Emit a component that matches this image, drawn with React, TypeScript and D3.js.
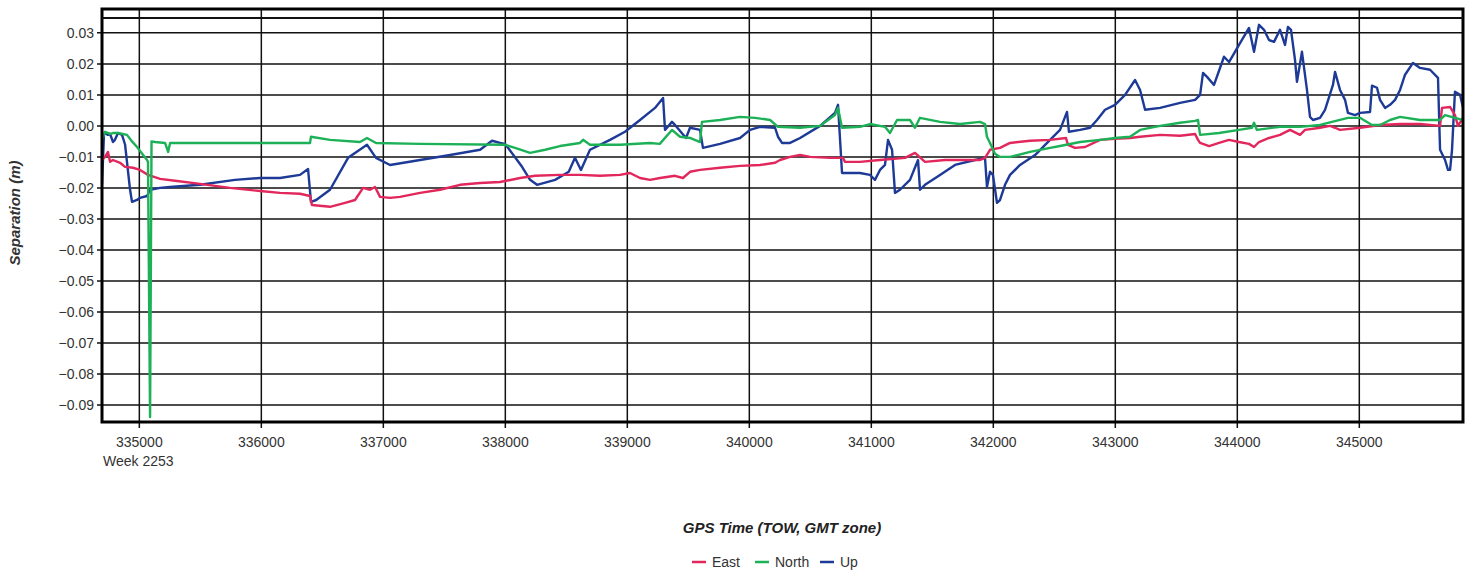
import React from 'react';
import * as d3 from 'd3';

// GPS time of week (s) vs separation (m)
const eastSeries: [number, number][] = [
    [334694, -0.0110], [334719, -0.0100], [334743, -0.0084], [334760, -0.0116], [334784, -0.0110],
    [334842, -0.0119], [334883, -0.0132], [334948, -0.0135], [335006, -0.0142], [335071, -0.0158],
    [335170, -0.0171], [335293, -0.0177], [335498, -0.0187], [335743, -0.0200], [335989, -0.0210],
    [336153, -0.0216], [336317, -0.0219], [336399, -0.0226], [336415, -0.0255], [336563, -0.0261],
    [336686, -0.0248], [336768, -0.0239], [336834, -0.0200], [336891, -0.0206], [336932, -0.0197],
    [336973, -0.0229], [337055, -0.0232], [337137, -0.0229], [337301, -0.0216], [337465, -0.0206],
    [337629, -0.0190], [337793, -0.0184], [337957, -0.0181], [338121, -0.0168], [338244, -0.0161],
    [338448, -0.0158], [338612, -0.0158], [338776, -0.0161], [338940, -0.0158], [339022, -0.0152],
    [339104, -0.0168], [339186, -0.0174], [339268, -0.0168], [339391, -0.0161], [339456, -0.0168],
    [339514, -0.0148], [339596, -0.0142], [339760, -0.0135], [339924, -0.0129], [340088, -0.0126],
    [340211, -0.0119], [340252, -0.0110], [340334, -0.0100], [340416, -0.0094], [340498, -0.0100],
    [340662, -0.0103], [340768, -0.0103], [340784, -0.0116], [340907, -0.0116], [341071, -0.0110],
    [341276, -0.0103], [341358, -0.0087], [341440, -0.0116], [341604, -0.0110], [341891, -0.0110],
    [341932, -0.0103], [341973, -0.0077], [342055, -0.0071], [342137, -0.0055], [342301, -0.0048],
    [342465, -0.0045], [342596, -0.0039], [342612, -0.0061], [342670, -0.0071], [342752, -0.0068],
    [342875, -0.0045], [342998, -0.0042], [343121, -0.0039], [343203, -0.0035], [343367, -0.0029],
    [343531, -0.0032], [343654, -0.0026], [343678, -0.0045], [343695, -0.0055], [343769, -0.0065],
    [343850, -0.0055], [343932, -0.0045], [344014, -0.0052], [344096, -0.0058], [344137, -0.0068],
    [344178, -0.0052], [344260, -0.0039], [344350, -0.0029], [344432, -0.0013], [344514, -0.0029],
    [344555, -0.0013], [344678, -0.0006], [344760, 0.0000], [344801, -0.0006], [344842, -0.0013],
    [345006, -0.0006], [345170, 0.0003], [345334, 0.0006], [345498, 0.0006], [345662, 0.0000],
    [345678, 0.0058], [345744, 0.0061], [345784, 0.0035], [345809, 0.0000], [345850, 0.0026],
];

const northSeries: [number, number][] = [
    [334694, -0.0045], [334719, -0.0019], [334760, -0.0026], [334784, -0.0023], [334825, -0.0023],
    [334899, -0.0029], [334940, -0.0050], [334981, -0.0068], [335063, -0.0110], [335071, -0.0116],
    [335088, -0.0939], [335100, -0.0050], [335129, -0.0052], [335211, -0.0055], [335236, -0.0084],
    [335252, -0.0055], [335498, -0.0055], [335989, -0.0055], [336399, -0.0055], [336407, -0.0035],
    [336563, -0.0045], [336809, -0.0052], [336866, -0.0039], [336940, -0.0055], [337301, -0.0058],
    [337998, -0.0061], [338080, -0.0071], [338203, -0.0087], [338326, -0.0077], [338448, -0.0065],
    [338612, -0.0055], [338637, -0.0045], [338694, -0.0061], [338940, -0.0061], [339186, -0.0055],
    [339266, -0.0058], [339366, -0.0013], [339432, -0.0035], [339514, -0.0039], [339596, -0.0052],
    [339612, 0.0013], [339760, 0.0019], [339924, 0.0029], [340047, 0.0026], [340170, 0.0019],
    [340235, -0.0003], [340416, -0.0006], [340580, 0.0000], [340702, 0.0035], [340727, 0.0058],
    [340760, -0.0006], [340907, -0.0003], [340989, 0.0006], [341112, -0.0003], [341153, -0.0023],
    [341211, 0.0019], [341317, 0.0019], [341358, -0.0006], [341399, 0.0026], [341563, 0.0013],
    [341727, 0.0006], [341891, 0.0013], [341932, 0.0006], [341948, -0.0035], [341973, -0.0055],
    [342014, -0.0090], [342055, -0.0100], [342137, -0.0100], [342301, -0.0084], [342465, -0.0071],
    [342547, -0.0065], [342711, -0.0052], [342875, -0.0045], [342998, -0.0039], [343121, -0.0035],
    [343203, -0.0013], [343367, 0.0000], [343531, 0.0010], [343654, 0.0016], [343678, 0.0019],
    [343695, -0.0029], [343850, -0.0023], [344014, -0.0013], [344120, -0.0006], [344137, 0.0010],
    [344160, -0.0013], [344350, -0.0003], [344514, -0.0003], [344678, 0.0003], [344907, 0.0026],
    [345006, 0.0026], [345104, 0.0003], [345170, 0.0003], [345252, 0.0019], [345334, 0.0029],
    [345498, 0.0019], [345662, 0.0019], [345703, 0.0035], [345784, 0.0026], [345850, 0.0019],
];

const upSeries: [number, number][] = [
    [334694, -0.0190], [334710, -0.0030], [334719, -0.0023], [334743, -0.0029], [334760, -0.0026],
    [334784, -0.0052], [334800, -0.0045], [334825, -0.0023], [334858, -0.0029], [334883, -0.0060],
    [334924, -0.0206], [334940, -0.0245], [334981, -0.0239], [335006, -0.0232], [335063, -0.0226],
    [335088, -0.0206], [335170, -0.0200], [335252, -0.0197], [335498, -0.0190], [335784, -0.0174],
    [335989, -0.0168], [336153, -0.0168], [336317, -0.0158], [336383, -0.0139], [336407, -0.0245],
    [336450, -0.0239], [336563, -0.0206], [336711, -0.0103], [336866, -0.0061], [336940, -0.0103],
    [337055, -0.0126], [337301, -0.0110], [337547, -0.0094], [337793, -0.0077], [337891, -0.0048],
    [337957, -0.0055], [337998, -0.0058], [338137, -0.0132], [338203, -0.0174], [338260, -0.0190],
    [338408, -0.0174], [338520, -0.0148], [338571, -0.0103], [338620, -0.0142], [338694, -0.0077],
    [338858, -0.0045], [338981, -0.0019], [339104, 0.0019], [339227, 0.0058], [339293, 0.0090],
    [339309, -0.0013], [339366, 0.0013], [339391, 0.0003], [339481, -0.0039], [339514, -0.0006],
    [339596, -0.0013], [339620, -0.0071], [339760, -0.0058], [339924, -0.0039], [340006, -0.0013],
    [340088, -0.0003], [340211, -0.0006], [340235, -0.0035], [340268, -0.0055], [340334, -0.0055],
    [340416, -0.0039], [340580, 0.0000], [340702, 0.0042], [340727, 0.0068], [340760, -0.0152],
    [340907, -0.0152], [340989, -0.0158], [341030, -0.0174], [341071, -0.0142], [341112, -0.0126],
    [341137, -0.0045], [341170, -0.0077], [341194, -0.0216], [341235, -0.0206], [341317, -0.0174],
    [341383, -0.0110], [341399, -0.0206], [341440, -0.0190], [341563, -0.0158], [341686, -0.0126],
    [341850, -0.0110], [341932, -0.0103], [341948, -0.0197], [341973, -0.0148], [341997, -0.0158],
    [342030, -0.0248], [342055, -0.0239], [342096, -0.0190], [342137, -0.0158], [342219, -0.0126],
    [342342, -0.0094], [342465, -0.0045], [342547, -0.0013], [342604, 0.0045], [342620, -0.0019],
    [342711, -0.0013], [342793, -0.0006], [342850, 0.0019], [342916, 0.0052], [342998, 0.0068],
    [343080, 0.0100], [343162, 0.0148], [343203, 0.0116], [343244, 0.0052], [343367, 0.0058],
    [343531, 0.0074], [343654, 0.0084], [343695, 0.0100], [343719, 0.0171], [343752, 0.0158],
    [343809, 0.0132], [343891, 0.0223], [343932, 0.0206], [344014, 0.0261], [344096, 0.0316],
    [344137, 0.0239], [344178, 0.0326], [344219, 0.0310], [344260, 0.0277], [344301, 0.0271],
    [344350, 0.0310], [344391, 0.0261], [344415, 0.0319], [344440, 0.0310], [344473, 0.0213],
    [344489, 0.0142], [344530, 0.0239], [344571, 0.0116], [344596, 0.0029], [344620, 0.0019],
    [344678, 0.0026], [344719, 0.0052], [344784, 0.0132], [344801, 0.0174], [344842, 0.0116],
    [344883, 0.0084], [344907, 0.0042], [344965, 0.0035], [345006, 0.0042], [345088, 0.0045],
    [345104, 0.0130], [345145, 0.0123], [345170, 0.0084], [345211, 0.0058], [345252, 0.0068],
    [345293, 0.0084], [345334, 0.0116], [345375, 0.0165], [345440, 0.0203], [345498, 0.0187],
    [345580, 0.0181], [345645, 0.0155], [345662, -0.0077], [345703, -0.0110], [345727, -0.0142],
    [345744, -0.0142], [345760, -0.0077], [345784, 0.0110], [345826, 0.0100], [345850, 0.0060],
];

const xTicks = [335000, 336000, 337000, 338000, 339000, 340000, 341000, 342000, 343000, 344000, 345000];
const yTicks = [0.03, 0.02, 0.01, 0, -0.01, -0.02, -0.03, -0.04, -0.05, -0.06, -0.07, -0.08, -0.09];
const weekLabel = 'Week 2253';

const legendItems = [
    { name: 'East', color: '#e2275c', data: eastSeries },
    { name: 'North', color: '#1db157', data: northSeries },
    { name: 'Up', color: '#1d3a96', data: upSeries },
];

const W = 1470;
const H = 571;
const plot = { left: 102, right: 1463, top: 9, bottom: 422 };
const font = '"Liberation Sans", Arial, sans-serif';

export default function App() {
    const x = d3.scaleLinear().domain([334694, 345850]).range([plot.left, plot.right]);
    const y = d3.scaleLinear().domain([-0.0955, 0.0377]).range([plot.bottom, plot.top]);
    const line = d3.line<[number, number]>().x(d => x(d[0])).y(d => y(d[1]));

    // draw order: Up underneath, then East, North on top
    const drawOrder = [legendItems[2], legendItems[0], legendItems[1]];

    const legendX = [692, 755, 820];

    return (
        <div style={{ position: 'absolute', left: 0, top: 0 }}>
            <svg width={W} height={H} style={{ display: 'block', background: '#fff' }}>
                <defs>
                    <clipPath id="plotClip">
                        <rect x={plot.left} y={plot.top} width={plot.right - plot.left} height={plot.bottom - plot.top} />
                    </clipPath>
                </defs>

                {/* grid */}
                {yTicks.map(t => (
                    <g key={'y' + t}>
                        <line x1={plot.left - 5} x2={plot.right} y1={y(t)} y2={y(t)} stroke="#111" strokeWidth={1.5} />
                        <text x={94} y={y(t)} dy="0.35em" textAnchor="end" fontFamily={font} fontSize={14} fill="#333">
                            {d3.format('.2f')(t)}
                        </text>
                    </g>
                ))}
                {xTicks.map(t => (
                    <g key={'x' + t}>
                        <line x1={x(t)} x2={x(t)} y1={plot.top} y2={plot.bottom + 6} stroke="#111" strokeWidth={1.5} />
                        <text x={x(t)} y={447} textAnchor="middle" fontFamily={font} fontSize={14} fill="#333">{t}</text>
                    </g>
                ))}
                <text x={103} y={466} fontFamily={font} fontSize={14} fill="#333">{weekLabel}</text>

                {/* series */}
                <g clipPath="url(#plotClip)">
                    {drawOrder.map(s => (
                        <path key={s.name} d={line(s.data) ?? ''} fill="none" stroke={s.color} strokeWidth={2.4} strokeLinejoin="round" />
                    ))}
                </g>

                {/* frame */}
                <rect x={plot.left} y={plot.top} width={plot.right - plot.left} height={plot.bottom - plot.top} fill="none" stroke="#000" strokeWidth={3} />
                <line x1={plot.left} x2={plot.right} y1={18} y2={18} stroke="#111" strokeWidth={2} />

                {/* axis titles */}
                <text transform={`translate(20,213) rotate(-90)`} textAnchor="middle" fontFamily={font} fontSize={15} fontStyle="italic" fontWeight="bold" fill="#333">
                    Separation (m)
                </text>
                <text x={782} y={533} textAnchor="middle" fontFamily={font} fontSize={15} fontStyle="italic" fontWeight="bold" fill="#222">
                    GPS Time (TOW, GMT zone)
                </text>

                {/* legend */}
                {legendItems.map((s, i) => (
                    <g key={'lg' + s.name} transform={`translate(${legendX[i]},562)`}>
                        <line x1={0} x2={14} y1={0} y2={0} stroke={s.color} strokeWidth={2.5} />
                        <text x={20} y={0} dy="0.35em" fontFamily={font} fontSize={14} fill="#333">{s.name}</text>
                    </g>
                ))}
            </svg>
        </div>
    );
}
